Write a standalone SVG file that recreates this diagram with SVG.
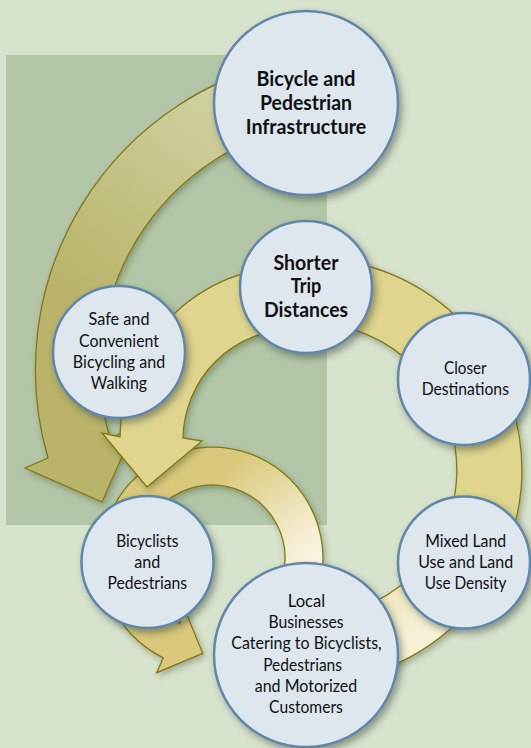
<svg xmlns="http://www.w3.org/2000/svg" width="531" height="748" viewBox="0 0 531 748">
<defs>
<style>
.node circle{fill:#dee6ee;stroke:#5f87aa;stroke-width:2.5;filter:url(#sh)}
.node text{font-family:Lato,"Liberation Sans",sans-serif;font-size:17.5px;fill:#111;text-anchor:middle}
.node text.b{font-weight:bold;font-size:20.5px}
.arrow{stroke:#857712;stroke-width:1.3;stroke-linejoin:miter;filter:url(#ash)}
</style>
<filter id="sh" x="-20%" y="-20%" width="150%" height="150%">
<feDropShadow dx="3" dy="4" stdDeviation="3.5" flood-color="#2a3a2a" flood-opacity="0.45"/>
</filter>
<filter id="ash" x="-20%" y="-20%" width="150%" height="150%">
<feDropShadow dx="2" dy="3" stdDeviation="3" flood-color="#2a3a20" flood-opacity="0.35"/>
</filter>
<linearGradient id="gOlive" gradientUnits="userSpaceOnUse" x1="240" y1="90" x2="80" y2="300">
<stop offset="0" stop-color="#d0d3a4"/>
<stop offset="1" stop-color="#b9b469"/>
</linearGradient>
<linearGradient id="gRight" gradientUnits="userSpaceOnUse" x1="0" y1="520" x2="0" y2="630">
<stop offset="0" stop-color="#e0d58e"/>
<stop offset="1" stop-color="#f6f0d6"/>
</linearGradient>
<radialGradient id="gBottom" gradientUnits="userSpaceOnUse" cx="332" cy="578" r="150">
<stop offset="0" stop-color="#fdfaee"/>
<stop offset="0.35" stop-color="#f5eed2"/>
<stop offset="1" stop-color="#dac97c"/>
</radialGradient>
</defs>
<rect x="0" y="0" width="531" height="748" fill="#d8e3ce"/>
<rect x="6" y="55" width="321" height="470" fill="#b3c7a8"/>
<g id="connectors">
<path id="arrow-local-to-bicyclists" class="arrow" fill="url(#gBottom)" d="M319.2,586.7 A111,111 0 1,0 163.3,657.8 L156.7,672.7 L202.7,653.3 L183.7,607 L180,623.6 A73,73 0 1,1 282.5,576.9 Z"/>
<path id="arrow-infrastructure-to-bicyclists" class="arrow" fill="url(#gOlive)" d="M295.1,58.8 A316,316 0 0,0 48,458 L25,468 L102,502 L136,425 L110,439 A250,250 0 0,1 306.6,123.8 Z"/>
<path id="arrow-right-loop" class="arrow" fill="url(#gRight)" d="M310,258 A212,212 0 1,1 273.2,678.8 L284.5,614.8 A147,147 0 1,0 310,323 Z"/>
<path id="arrow-shorter-to-bicyclists" class="arrow" fill="#e0d58e" d="M294,266 A174,174 0 0,0 120,437 L102,433 L147,487 L202,441 L183,438 A111,111 0 0,1 294,329 Z"/>
</g>
<g id="node-infrastructure" class="node">
<circle cx="306" cy="103" r="92"/>
<text class="b" x="306" y="86" textLength="99" lengthAdjust="spacingAndGlyphs">Bicycle and</text>
<text class="b" x="306" y="110" textLength="92" lengthAdjust="spacingAndGlyphs">Pedestrian</text>
<text class="b" x="306" y="134" textLength="120.5" lengthAdjust="spacingAndGlyphs">Infrastructure</text>
</g>
<g id="node-shorter" class="node">
<circle cx="306" cy="287" r="66"/>
<text class="b" x="306" y="269.5" textLength="65" lengthAdjust="spacingAndGlyphs">Shorter</text>
<text class="b" x="306" y="293" textLength="30.5" lengthAdjust="spacingAndGlyphs">Trip</text>
<text class="b" x="306" y="317" textLength="84" lengthAdjust="spacingAndGlyphs">Distances</text>
</g>
<g id="node-safe" class="node">
<circle cx="119" cy="352" r="66"/>
<text x="119" y="325" textLength="61" lengthAdjust="spacingAndGlyphs">Safe and</text>
<text x="119" y="346.7" textLength="80" lengthAdjust="spacingAndGlyphs">Convenient</text>
<text x="119" y="368.3" textLength="92.3" lengthAdjust="spacingAndGlyphs">Bicycling and</text>
<text x="119" y="389.3" textLength="56.3" lengthAdjust="spacingAndGlyphs">Walking</text>
</g>
<g id="node-closer" class="node">
<circle cx="464" cy="379" r="66"/>
<text x="465.3" y="374" textLength="42.7" lengthAdjust="spacingAndGlyphs">Closer</text>
<text x="465.3" y="395" textLength="87.3" lengthAdjust="spacingAndGlyphs">Destinations</text>
</g>
<g id="node-mixed" class="node">
<circle cx="464" cy="562.5" r="66"/>
<text x="465.7" y="546.7" textLength="81" lengthAdjust="spacingAndGlyphs">Mixed Land</text>
<text x="465.7" y="568.3" textLength="95" lengthAdjust="spacingAndGlyphs">Use and Land</text>
<text x="465.7" y="589.3" textLength="81.7" lengthAdjust="spacingAndGlyphs">Use Density</text>
</g>
<g id="node-bicyclists" class="node">
<circle cx="147.5" cy="562" r="66"/>
<text x="147.3" y="546.7" textLength="62.3" lengthAdjust="spacingAndGlyphs">Bicyclists</text>
<text x="147.3" y="568.3" textLength="26" lengthAdjust="spacingAndGlyphs">and</text>
<text x="147.3" y="589.3" textLength="79.7" lengthAdjust="spacingAndGlyphs">Pedestrians</text>
</g>
<g id="node-local" class="node">
<circle cx="306" cy="655" r="92"/>
<text x="306.5" y="607" textLength="37.3" lengthAdjust="spacingAndGlyphs">Local</text>
<text x="306" y="628.3" textLength="75.2" lengthAdjust="spacingAndGlyphs">Businesses</text>
<text x="306.5" y="649.3" textLength="150.4" lengthAdjust="spacingAndGlyphs">Catering to Bicyclists,</text>
<text x="302.6" y="670.7" textLength="78.9" lengthAdjust="spacingAndGlyphs">Pedestrians</text>
<text x="306" y="691.7" textLength="102.6" lengthAdjust="spacingAndGlyphs">and Motorized</text>
<text x="306" y="713.3" textLength="73.8" lengthAdjust="spacingAndGlyphs">Customers</text>
</g>
</svg>
